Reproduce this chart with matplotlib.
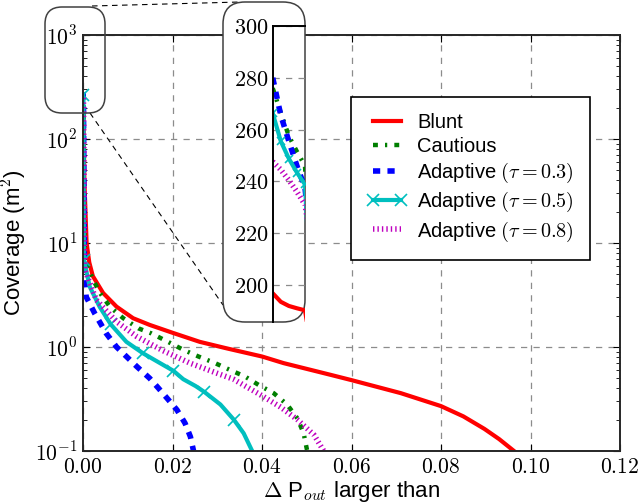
import numpy as np
import matplotlib
matplotlib.use('Agg')
import matplotlib.pyplot as plt
from matplotlib.patches import FancyBboxPatch
from matplotlib.lines import Line2D
from matplotlib.ticker import FuncFormatter, FixedLocator

plt.rcParams['font.family'] = ['Liberation Sans', 'DejaVu Sans']
plt.rcParams['mathtext.fontset'] = 'cm'

# Coverage curves: x = Delta P_out threshold, y = coverage (m^2)
blunt_x = [0, 2.5e-5, 5e-5, 7.5e-5, 1e-4, 0.0003, 0.0008, 0.0014, 0.0022, 0.0045, 0.0075,
           0.0112, 0.0149, 0.02, 0.0261, 0.0321, 0.04, 0.0448, 0.0553, 0.06, 0.071,
           0.08, 0.085, 0.0897, 0.093, 0.0963]
blunt_y = [196.8, 193.5, 191.9, 191.0, 190.2, 40, 10, 6.5, 4.8, 3.3, 2.44,
           1.89, 1.63, 1.37, 1.12, 0.97, 0.81, 0.70, 0.54, 0.48, 0.36,
           0.27, 0.215, 0.163, 0.13, 0.1]

cautious_x = [0, 2.5e-5, 5e-5, 7.5e-5, 1e-4, 0.0002, 0.0004, 0.0023, 0.0038, 0.006,
              0.009, 0.0124, 0.0153, 0.019, 0.0224, 0.0258, 0.0295, 0.0329, 0.0362,
              0.0393, 0.0426, 0.0456, 0.0479, 0.0493, 0.0501]
cautious_y = [276, 266.5, 257.5, 251.5, 246, 30, 6.9, 4.4, 3.3, 2.44,
              1.89, 1.51, 1.35, 1.12, 0.94, 0.81, 0.70, 0.60, 0.52,
              0.43, 0.36, 0.28, 0.206, 0.148, 0.1]

adapt03_x = [0, 2.5e-5, 5e-5, 7.5e-5, 1e-4, 0.0003, 0.0007, 0.0026, 0.0052, 0.0075,
             0.0097, 0.012, 0.0149, 0.0169, 0.0191, 0.021, 0.0228, 0.024, 0.0247]
adapt03_y = [280, 265.5, 255.5, 246, 237.5, 5.0, 3.04, 2.11, 1.35, 1.0,
             0.81, 0.65, 0.50, 0.40, 0.31, 0.248, 0.185, 0.137, 0.1]

adapt05_x = [0, 2.5e-5, 5e-5, 7.5e-5, 1e-4, 0.0002, 0.0015, 0.0037, 0.0062, 0.0097,
             0.0134, 0.0172, 0.0202, 0.0224, 0.0252, 0.0271, 0.0307, 0.0337, 0.0359, 0.0378]
adapt05_y = [266.3, 255.5, 248.8, 243.4, 238.8, 6.9, 3.8, 2.44, 1.65, 1.12,
             0.87, 0.70, 0.59, 0.49, 0.42, 0.37, 0.28, 0.20, 0.148, 0.1]
adapt05_marks = [0, 5, 8, 10, 12, 15, 17]

adapt08_x = [0, 2.5e-5, 5e-5, 7.5e-5, 1e-4, 0.0004, 0.003, 0.0075, 0.012, 0.0179,
             0.0239, 0.0299, 0.0336, 0.04, 0.0441, 0.0479, 0.0516, 0.0538]
adapt08_y = [247.6, 244.5, 240.5, 236, 231, 5.5, 2.83, 1.75, 1.26, 0.92,
             0.70, 0.56, 0.49, 0.34, 0.265, 0.20, 0.143, 0.1]

labels = ['Blunt', 'Cautious', r'Adaptive $(\tau = 0.3)$',
          r'Adaptive $(\tau = 0.5)$', r'Adaptive $(\tau = 0.8)$']

xticks = [0.0, 0.02, 0.04, 0.06, 0.08, 0.10, 0.12]
yticks = [1e-1, 1e0, 1e1, 1e2, 1e3]
inset_yticks = [200, 220, 240, 260, 280, 300]

styles = [
    dict(color='#ff0000', lw=3, ls='-'),
    dict(color='#007f00', lw=3.2, ls=(0, (1.1, 1.6, 0.5, 1.6))),
    dict(color='#0000ff', lw=4, ls=(0, (1.3, 1.3))),
    dict(color='#00bfbf', lw=3, ls='-', marker='x', ms=9, mew=1.2),
    dict(color='#bf00bf', lw=4, ls=(0, (0.25, 0.55)), dash_capstyle='butt'),
]
series = [(blunt_x, blunt_y), (cautious_x, cautious_y), (adapt03_x, adapt03_y),
          (adapt05_x, adapt05_y), (adapt08_x, adapt08_y)]

fig = plt.figure(figsize=(6.39, 5.04), dpi=100)
ax = fig.add_axes([0.1299, 0.1052, 0.8404, 0.8254])

for (x, y), st, lab in zip(series, styles, labels):
    kw = dict(st)
    if 'marker' in kw:
        kw['markevery'] = adapt05_marks
    ax.plot(x, y, label=lab, **kw)

ax.set_yscale('log')
ax.set_xlim(0, 0.12)
ax.set_ylim(1e-1, 1e3)
ax.xaxis.set_major_locator(FixedLocator(xticks))
ax.yaxis.set_major_locator(FixedLocator(yticks))
ax.xaxis.set_major_formatter(FuncFormatter(lambda v, p: f'${v:.2f}$'))
ax.yaxis.set_major_formatter(FuncFormatter(lambda v, p: f'$10^{{{int(round(np.log10(v)))}}}$'))
ax.tick_params(axis='both', which='both', direction='in', top=True, right=True,
               labelsize=15.5, pad=4)
ax.tick_params(which='major', length=5)
ax.tick_params(which='minor', length=3)
ax.grid(True, which='major', color='0.55', ls=(0, (5, 5)), lw=0.9)
for sp in ax.spines.values():
    sp.set_linewidth(1.4)
    sp.set_color('0.15')

ax.set_xlabel(r'$\Delta$ P$_{out}$ larger than', fontsize=16, labelpad=1)
ax.set_ylabel(r'Coverage (m$^{\mathsf{2}}$)', fontsize=16, labelpad=4)

leg = ax.legend(loc='upper left', bbox_to_anchor=(0.499, 0.851), borderaxespad=0,
                fontsize=14.5, fancybox=False, edgecolor='black', framealpha=1,
                handlelength=2.0, handletextpad=0.5, labelspacing=0.25, borderpad=0.8,
                numpoints=2)
leg.get_frame().set_linewidth(1.2)
for h in leg.legend_handles:
    h.set_markevery(None)

# rounded frame around the zoomed-in view
inch = fig.dpi_scale_trans
big_box = FancyBboxPatch((2.23, 1.82), 0.82, 3.20, boxstyle='round,pad=0,rounding_size=0.22',
                         transform=inch, facecolor='white', edgecolor='0.25', lw=1.1, zorder=1)
small_box = FancyBboxPatch((0.45, 3.91), 0.60, 1.06, boxstyle='round,pad=0,rounding_size=0.17',
                           transform=inch, facecolor='none', edgecolor='0.25', lw=1.1, zorder=1)
fig.patches.extend([big_box, small_box])
fig.lines.append(Line2D([0.92, 2.40], [4.98, 5.02], transform=inch, color='black',
                        lw=0.8, ls=(0, (5, 4)), zorder=0.9))
fig.lines.append(Line2D([0.90, 2.23], [3.91, 1.99], transform=inch, color='black',
                        lw=0.8, ls=(0, (5, 4)), zorder=0.9))

# zoomed-in view near the origin
axin = fig.add_axes([0.4268, 0.3611, 0.0505, 0.5873])
axin.set_zorder(2)
axin.patch.set_alpha(0)
for (x, y), st in zip(series, styles):
    kw = dict(st)
    if 'marker' in kw:
        kw['markevery'] = 0.03
        kw['ms'] = 6
    axin.plot(x, y, **kw)
axin.set_xlim(0, 1e-4)
axin.set_ylim(185.7, 300)
axin.set_xticks([])
axin.yaxis.set_major_locator(FixedLocator(inset_yticks))
axin.yaxis.set_major_formatter(FuncFormatter(lambda v, p: f'${int(v)}$'))
axin.tick_params(axis='y', direction='in', length=0, labelsize=16, pad=3)
axin.grid(True, axis='y', color='0.55', ls=(0, (5, 5)), lw=0.9)
axin.spines['right'].set_visible(False)
axin.spines['bottom'].set_visible(False)
axin.spines['left'].set_linewidth(1.4)
axin.spines['top'].set_linewidth(1.4)

fig.savefig('out.png', dpi=100)
